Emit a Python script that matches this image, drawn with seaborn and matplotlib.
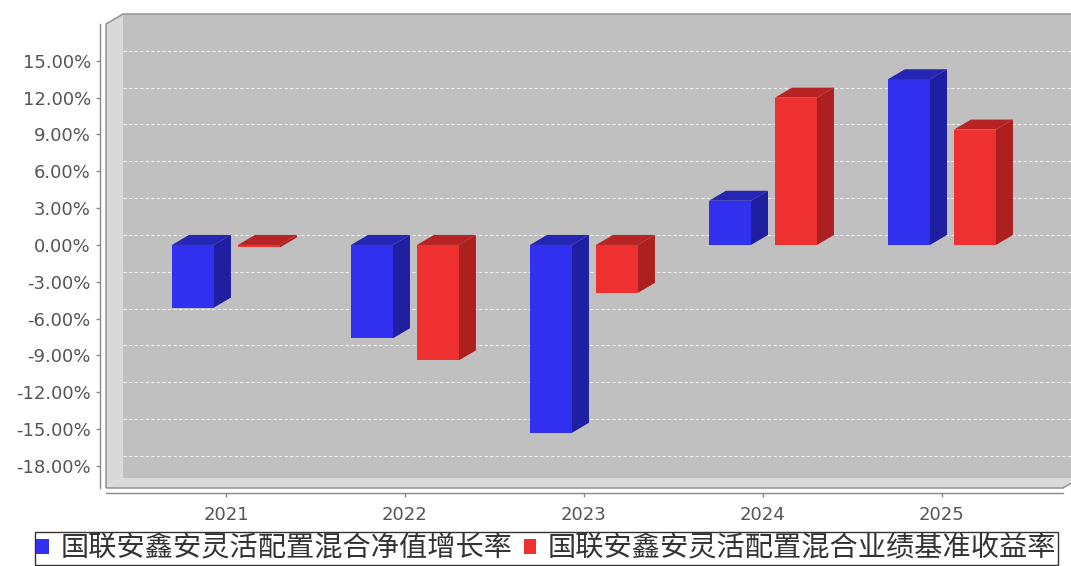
import numpy as np
import pandas as pd
import matplotlib
matplotlib.use("Agg")
import matplotlib.pyplot as plt
import seaborn as sns
from matplotlib.patches import Polygon, Rectangle
from matplotlib.ticker import FixedLocator, FuncFormatter

# ---- data ----
years = ["2021", "2022", "2023", "2024", "2025"]
series_names = ["国联安鑫安灵活配置混合净值增长率", "国联安鑫安灵活配置混合业绩基准收益率"]
nav_growth = [-5.1, -7.6, -15.3, 3.6, 13.5]
benchmark = [-0.2, -9.4, -3.9, 12.0, 9.4]
y_ticks = [-18, -15, -12, -9, -6, -3, 0, 3, 6, 9, 12, 15]

front_colors = ["#3030ee", "#ee3030"]
side_colors = ["#1f1fa2", "#ad2020"]
top_colors = ["#2626b4", "#b82424"]

df = pd.DataFrame({
    "year": years * 2,
    "series": [series_names[0]] * len(years) + [series_names[1]] * len(years),
    "value": nav_growth + benchmark,
})

sns.set_theme(style="white")
plt.rcParams['font.family'] = ['Noto Sans CJK SC', 'DejaVu Sans']

W, H = 1071, 566
fig = plt.figure(figsize=(W / 100, H / 100), dpi=100, facecolor="white")
fl, fr, ft, fb = 106, 1063, 24, 488      # front plane in pixels
DX, DY = 17, 10                           # 3D depth in pixels
ax = fig.add_axes([fl / W, 1 - fb / H, (fr - fl) / W, (fb - ft) / H])
ax.patch.set_visible(False)

sns.barplot(data=df, x="year", y="value", hue="series", palette=front_colors,
            hue_order=series_names, width=0.737, gap=0.363, saturation=1,
            errorbar=None, linewidth=0, ax=ax, legend=False)

xmin, xmax = -0.670, 4.676
ymin, ymax = -19.8, 18.0
ax.set_xlim(xmin, xmax)
ax.set_ylim(ymin, ymax)
ddx = DX * (xmax - xmin) / (fr - fl)
ddy = DY * (ymax - ymin) / (fb - ft)

# back wall, left wall, floor
ax.add_patch(Rectangle((xmin + ddx, ymin + ddy), xmax - xmin, ymax - ymin,
                       facecolor="#c0c0c0", edgecolor="none", clip_on=False, zorder=0))
ax.add_patch(Polygon([(xmin, ymin), (xmin, ymax), (xmin + ddx, ymax + ddy), (xmin + ddx, ymin + ddy)],
                     closed=True, facecolor="#d9d9d9", edgecolor="none", clip_on=False, zorder=0.1))
ax.add_patch(Polygon([(xmin, ymin), (xmax, ymin), (xmax + ddx, ymin + ddy), (xmin + ddx, ymin + ddy)],
                     closed=True, facecolor="#d9d9d9", edgecolor="none", clip_on=False, zorder=0.1))
# gridlines on back wall
ax.hlines([t + ddy for t in y_ticks], xmin + ddx, xmax + ddx, colors="#ececec",
          linestyles=(0, (3, 2)), linewidth=0.8, clip_on=False, zorder=0.5)
# outline
ax.add_patch(Polygon([(xmin, ymin), (xmin, ymax), (xmin + ddx, ymax + ddy), (xmax + ddx, ymax + ddy),
                      (xmax + ddx, ymin + ddy), (xmax, ymin)],
                     closed=True, facecolor="none", edgecolor="#8a8a8a", linewidth=1.0,
                     clip_on=False, zorder=0.6))

# 3D faces for bars
for ci, cont in enumerate(ax.containers):
    for bar in cont:
        x0, w = bar.get_x(), bar.get_width()
        y0, h = bar.get_y(), bar.get_height()
        bot, top = min(y0, y0 + h), max(y0, y0 + h)
        bar.set_zorder(3)
        ax.add_patch(Polygon([(x0, top), (x0 + w, top), (x0 + w + ddx, top + ddy), (x0 + ddx, top + ddy)],
                             closed=True, facecolor=top_colors[ci], edgecolor="none",
                             clip_on=False, zorder=3))
        ax.add_patch(Polygon([(x0 + w, bot), (x0 + w, top), (x0 + w + ddx, top + ddy), (x0 + w + ddx, bot + ddy)],
                             closed=True, facecolor=side_colors[ci], edgecolor="none",
                             clip_on=False, zorder=3))

# axes styling
for s in ["top", "right"]:
    ax.spines[s].set_visible(False)
ax.spines["left"].set_position(("outward", 4.3))
ax.spines["bottom"].set_position(("outward", 3.6))
for s in ["left", "bottom"]:
    ax.spines[s].set_color("#888888")
    ax.spines[s].set_linewidth(1.0)
ax.spines["bottom"].set_bounds(xmin, xmax)

ax.yaxis.set_major_locator(FixedLocator(y_ticks))
ax.yaxis.set_major_formatter(FuncFormatter(lambda v, p: f"{v:.2f}%"))
ax.tick_params(axis="y", left=True, length=3, width=1, color="#888888", pad=3.6,
               labelsize=13, labelcolor="#555555")
ax.tick_params(axis="x", bottom=True, length=3, width=1, color="#888888", pad=6,
               labelsize=13, labelcolor="#555555")
for lab in ax.get_yticklabels() + ax.get_xticklabels():
    lab.set_fontfamily(["DejaVu Sans"])
ax.set_xlabel("")
ax.set_ylabel("")

handles = [Rectangle((0, 0), 1, 1, facecolor=c, edgecolor="none") for c in front_colors]
leg = fig.legend(handles, series_names, loc="upper left", bbox_to_anchor=(35 / W, 1 - 532 / H),
                 ncol=2, fontsize=20.3, frameon=True, fancybox=False, edgecolor="black",
                 handlelength=0.45, handleheight=0.45, handletextpad=0.4, columnspacing=0.4,
                 borderpad=0.05, borderaxespad=0)
leg.get_frame().set_linewidth(1.0)
for t in leg.get_texts():
    t.set_color("#333333")

fig.savefig("out.png", dpi=100, facecolor="white")
